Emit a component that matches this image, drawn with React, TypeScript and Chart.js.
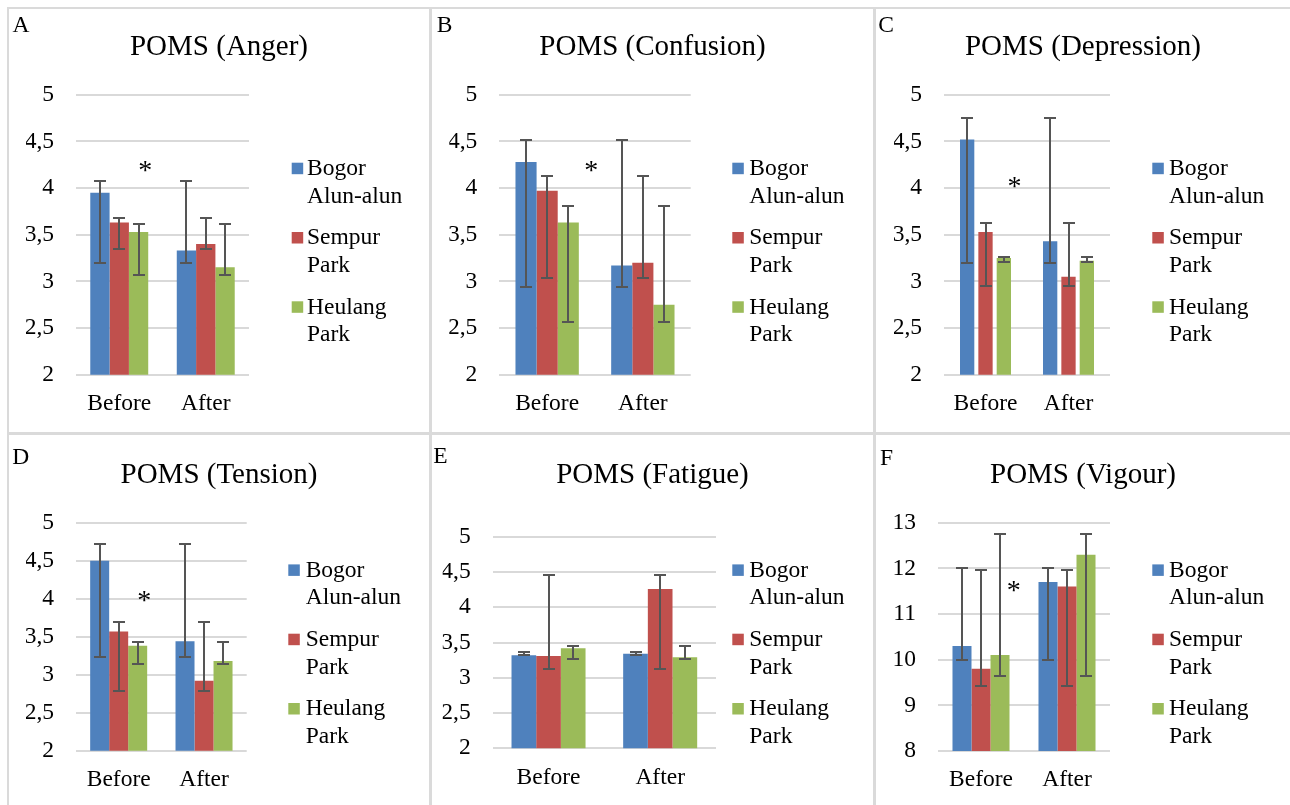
import React, { useEffect, useRef } from 'react';
import { Chart, registerables } from 'chart.js';

Chart.register(...registerables);

// ---------- data ----------
const categories = ['Before', 'After'];
const seriesNames = ['Bogor Alun-alun', 'Sempur Park', 'Heulang Park'];
const legendLines = [['Bogor', 'Alun-alun'], ['Sempur', 'Park'], ['Heulang', 'Park']];
const seriesColors = ['#4f81bd', '#c0504d', '#9bbb59'];

// each row: one series (Bogor, Sempur, Heulang); each column: Before, After
const angerMeans = [[3.95, 3.33], [3.63, 3.40], [3.53, 3.15]];
const angerLow = [[3.20, 3.20], [3.35, 3.35], [3.07, 3.07]];
const angerHigh = [[4.08, 4.08], [3.68, 3.68], [3.61, 3.61]];

const confusionMeans = [[4.28, 3.17], [3.97, 3.20], [3.63, 2.75]];
const confusionLow = [[2.94, 2.94], [3.04, 3.04], [2.56, 2.56]];
const confusionHigh = [[4.51, 4.51], [4.13, 4.13], [3.81, 3.81]];

const depressionMeans = [[4.52, 3.43], [3.53, 3.05], [3.25, 3.22]];
const depressionLow = [[3.20, 3.20], [2.95, 2.95], [3.21, 3.21]];
const depressionHigh = [[4.75, 4.75], [3.63, 3.63], [3.26, 3.26]];

const tensionMeans = [[4.50, 3.44], [3.57, 2.92], [3.38, 3.18]];
const tensionLow = [[3.23, 3.23], [2.79, 2.79], [3.14, 3.14]];
const tensionHigh = [[4.72, 4.72], [3.70, 3.70], [3.43, 3.43]];

const fatigueMeans = [[3.32, 3.34], [3.31, 4.26], [3.42, 3.29]];
const fatigueLow = [[3.32, 3.32], [3.12, 3.12], [3.27, 3.27]];
const fatigueHigh = [[3.36, 3.36], [4.46, 4.46], [3.45, 3.45]];

const vigourMeans = [[10.3, 11.7], [9.8, 11.6], [10.1, 12.3]];
const vigourLow = [[10.0, 10.0], [9.42, 9.42], [9.64, 9.64]];
const vigourHigh = [[12.0, 12.0], [11.97, 11.97], [12.75, 12.75]];

const moodAxis = { min: 2, max: 5, step: 0.5 };
const vigourAxis = { min: 8, max: 13, step: 1 };

// ---------- layout ----------
const FONT = "'Liberation Serif', 'Times New Roman', Times, serif";
const TXT = 23.5;

type PanelCfg = {
  letter: string;
  title: string;
  means: number[][];
  low: number[][];
  high: number[][];
  axis: { min: number; max: number; step: number };
  star: { cat: number; frac: number; value: number } | null;
  box: { left: number; top: number; width: number; height: number };
  plot: { x0: number; x1: number; yTop: number; yBot: number };
  legend: { sqX: number; textX: number; base: number };
  titleBase: number;
  letterX: number;
  letterBase: number;
  catPct: number;
  barPct: number;
};

const panels: PanelCfg[] = [
  {
    letter: 'A', title: 'POMS (Anger)', means: angerMeans, low: angerLow, high: angerHigh, axis: moodAxis,
    star: { cat: 0, frac: 0.30, value: 4.24 },
    box: { left: 9, top: 9, width: 420, height: 423 },
    plot: { x0: 76, x1: 249, yTop: 94.7, yBot: 374.7 },
    legend: { sqX: 291.7, textX: 307, base: 175 },
    titleBase: 55, letterX: 12.5, letterBase: 32.3, catPct: 0.67, barPct: 1,
  },
  {
    letter: 'B', title: 'POMS (Confusion)', means: confusionMeans, low: confusionLow, high: confusionHigh, axis: moodAxis,
    star: { cat: 0, frac: 0.46, value: 4.24 },
    box: { left: 432, top: 9, width: 441, height: 423 },
    plot: { x0: 499.3, x1: 690.7, yTop: 94.7, yBot: 374.7 },
    legend: { sqX: 732.3, textX: 749.3, base: 175 },
    titleBase: 55, letterX: 436.7, letterBase: 32.3, catPct: 0.662, barPct: 1,
  },
  {
    letter: 'C', title: 'POMS (Depression)', means: depressionMeans, low: depressionLow, high: depressionHigh, axis: moodAxis,
    star: { cat: 0, frac: 0.35, value: 4.07 },
    box: { left: 876, top: 9, width: 414, height: 423 },
    plot: { x0: 944, x1: 1110, yTop: 94.7, yBot: 374.7 },
    legend: { sqX: 1152.3, textX: 1169, base: 175 },
    titleBase: 55, letterX: 878.3, letterBase: 32, catPct: 0.663, barPct: 0.78,
  },
  {
    letter: 'D', title: 'POMS (Tension)', means: tensionMeans, low: tensionLow, high: tensionHigh, axis: moodAxis,
    star: { cat: 0, frac: 0.30, value: 4.04 },
    box: { left: 9, top: 435, width: 420, height: 370 },
    plot: { x0: 76, x1: 246.7, yTop: 522.7, yBot: 750.7 },
    legend: { sqX: 288.3, textX: 305.7, base: 576.7 },
    titleBase: 482.7, letterX: 12.3, letterBase: 464.3, catPct: 0.668, barPct: 1,
  },
  {
    letter: 'E', title: 'POMS (Fatigue)', means: fatigueMeans, low: fatigueLow, high: fatigueHigh, axis: moodAxis,
    star: null,
    box: { left: 432, top: 435, width: 441, height: 370 },
    plot: { x0: 492.7, x1: 716, yTop: 536.7, yBot: 748.3 },
    legend: { sqX: 732.3, textX: 749.3, base: 576.7 },
    titleBase: 482.7, letterX: 433.3, letterBase: 463.3, catPct: 0.663, barPct: 1,
  },
  {
    letter: 'F', title: 'POMS (Vigour)', means: vigourMeans, low: vigourLow, high: vigourHigh, axis: vigourAxis,
    star: { cat: 0, frac: 0.38, value: 11.63 },
    box: { left: 876, top: 435, width: 414, height: 370 },
    plot: { x0: 938, x1: 1110, yTop: 522.7, yBot: 751 },
    legend: { sqX: 1152.3, textX: 1169, base: 576.7 },
    titleBase: 482.7, letterX: 880, letterBase: 465, catPct: 0.663, barPct: 1,
  },
];

function Panel({ cfg }: { cfg: PanelCfg }) {
  const ref = useRef<HTMLCanvasElement>(null);
  const { box } = cfg;

  useEffect(() => {
    const { plot } = cfg;
    const Y_W = 50;
    const X_H = 40;
    const pad = {
      left: plot.x0 - box.left - Y_W,
      right: box.left + box.width - plot.x1,
      top: plot.yTop - box.top,
      bottom: box.top + box.height - plot.yBot - X_H,
    };
    const ox = box.left;
    const oy = box.top;

    const overlay = {
      id: 'panelOverlay',
      afterDatasetsDraw(chart: any) {
        const ctx = chart.ctx;
        const yScale = chart.scales.y;
        ctx.save();
        ctx.strokeStyle = '#555555';
        ctx.lineWidth = 2;
        ctx.lineCap = 'butt';
        for (let i = 0; i < cfg.means.length; i++) {
          const meta = chart.getDatasetMeta(i);
          meta.data.forEach((bar: any, j: number) => {
            const x = Math.round(bar.x);
            const yl = Math.round(yScale.getPixelForValue(cfg.low[i][j]));
            const yh = Math.round(yScale.getPixelForValue(cfg.high[i][j]));
            ctx.beginPath();
            ctx.moveTo(x, yl + 1);
            ctx.lineTo(x, yh - 1);
            ctx.moveTo(x - 6, yl);
            ctx.lineTo(x + 6, yl);
            ctx.moveTo(x - 6, yh);
            ctx.lineTo(x + 6, yh);
            ctx.stroke();
          });
        }
        ctx.restore();
      },
      afterDraw(chart: any) {
        const ctx = chart.ctx;
        ctx.save();
        ctx.fillStyle = '#000';
        // panel letter
        ctx.font = `${TXT}px ${FONT}`;
        ctx.textAlign = 'left';
        ctx.textBaseline = 'alphabetic';
        ctx.fillText(cfg.letter, cfg.letterX - ox, cfg.letterBase - oy);
        // title
        ctx.font = `29px ${FONT}`;
        ctx.textAlign = 'center';
        ctx.fillText(cfg.title, box.width / 2, cfg.titleBase - oy);
        // significance marker
        if (cfg.star) {
          const xs = chart.scales.x;
          const p0 = xs.getPixelForValue(cfg.star.cat);
          const p1 = xs.getPixelForValue(cfg.star.cat + 1);
          const sx = p0 + cfg.star.frac * (p1 - p0);
          const sy = chart.scales.y.getPixelForValue(cfg.star.value);
          ctx.font = `28px ${FONT}`;
          ctx.textAlign = 'center';
          ctx.fillText('*', sx, sy + 13.5);
        }
        // legend
        ctx.font = `${TXT}px ${FONT}`;
        ctx.textAlign = 'left';
        legendLines.forEach((lines, k) => {
          const b = cfg.legend.base - oy + k * 69.3;
          ctx.fillStyle = seriesColors[k];
          ctx.fillRect(cfg.legend.sqX - ox, b - 12.3, 11.5, 11.5);
          ctx.fillStyle = '#000';
          lines.forEach((t, m) => ctx.fillText(t, cfg.legend.textX - ox, b + m * 27.7));
        });
        ctx.restore();
      },
    };

    const chart = new Chart(ref.current as HTMLCanvasElement, {
      type: 'bar',
      data: {
        labels: categories,
        datasets: seriesNames.map((name, i) => ({
          label: name,
          data: cfg.means[i],
          backgroundColor: seriesColors[i],
          borderWidth: 0,
          categoryPercentage: cfg.catPct,
          barPercentage: cfg.barPct,
        })),
      },
      options: {
        responsive: false,
        animation: false,
        events: [],
        devicePixelRatio: 1,
        layout: { padding: pad },
        plugins: {
          legend: { display: false },
          tooltip: { enabled: false },
          title: { display: false },
        },
        scales: {
          x: {
            grid: { display: false, drawTicks: false },
            border: { display: false },
            ticks: { color: '#000', padding: 15, font: { family: FONT, size: TXT } },
            afterFit: (s: any) => { s.height = X_H; },
          },
          y: {
            min: cfg.axis.min,
            max: cfg.axis.max,
            grid: { color: '#d9d9d9', lineWidth: 2, drawTicks: false },
            border: { display: false },
            ticks: {
              stepSize: cfg.axis.step,
              color: '#000',
              padding: 22,
              font: { family: FONT, size: TXT },
              callback: (v: any) => String(v).replace('.', ','),
            },
            afterFit: (s: any) => { s.width = Y_W; },
          },
        },
      },
      plugins: [overlay],
    } as any);
    return () => chart.destroy();
  }, [cfg]);

  return (
    <canvas
      ref={ref}
      width={box.width}
      height={box.height}
      style={{ position: 'absolute', left: box.left, top: box.top, width: box.width, height: box.height }}
    />
  );
}

const lineColor = '#dadada';
const borderLines = [
  { left: 7, top: 7, width: 1283, height: 2 },
  { left: 7, top: 7, width: 2, height: 798 },
  { left: 429, top: 7, width: 3, height: 798 },
  { left: 873, top: 7, width: 3, height: 798 },
  { left: 7, top: 432, width: 1283, height: 3 },
];

export default function App() {
  return (
    <div style={{ position: 'absolute', left: 0, top: 0, width: 1290, height: 805, background: '#fff', overflow: 'hidden' }}>
      {borderLines.map((b, i) => (
        <div key={i} style={{ position: 'absolute', background: lineColor, ...b }} />
      ))}
      {panels.map((p) => (
        <Panel key={p.letter} cfg={p} />
      ))}
    </div>
  );
}
